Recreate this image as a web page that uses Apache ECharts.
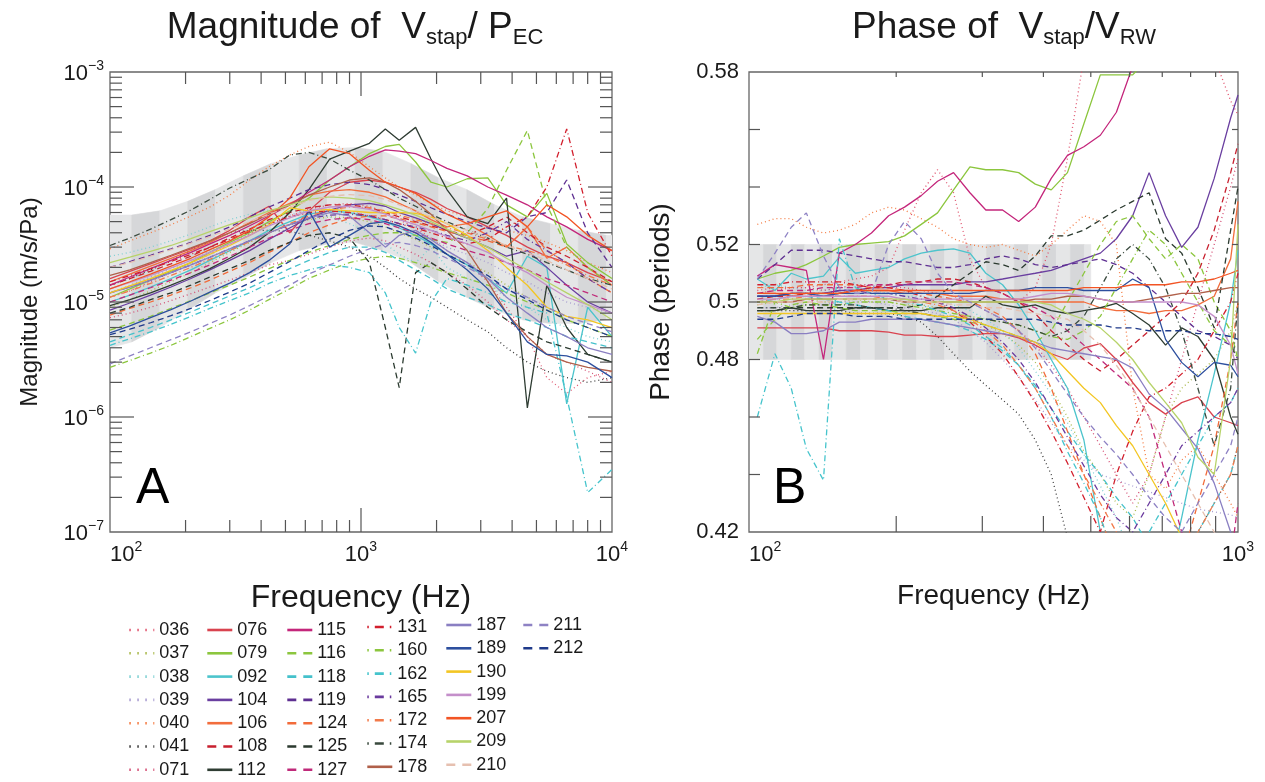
<!DOCTYPE html>
<html><head><meta charset="utf-8">
<script src="https://cdn.jsdelivr.net/npm/echarts@6/dist/echarts.min.js"></script>
<style>html,body{margin:0;padding:0;background:#fff}#c{width:1265px;height:782px}</style>
</head><body><div id="c"></div>
<script>
// ---------- DATA ----------
// Magnitude panel frequencies (Hz)
const freqMag = [100,120,145,175,210,250,300,360,430,520,620,750,900,1080,1250,1420,1650,1900,2200,2650,3200,3800,4600,5500,6600,8000,10000];
// Phase panel frequencies (Hz)
const freqPhase = [104,113,122,131,142,153,165,178,193,208,225,243,262,283,305,330,356,385,415,448,484,523,564,609,658,711,767,828,894,966,1000];

// Magnitudes in micro (1e-6) m/s/Pa
const mag036 = [11,12.5,15,18,22,26,32,39,47,56,64,70,72,68,60,52,44,36,28,22,15,9,5,2.2,1.6,2.2,2.5];
const mag037 = [9,10.5,12.5,15,18,22,27,33,40,47,52,55,54,50,45,40,35,30,26,22,18,14,11,9,7,6,5];
const mag038 = [25,27,30,34,39,45,52,58,63,64,60,55,48,40,32,26,22,30,20,16,14,11,9,7,6,5,4.5];
const mag039 = [12,14,16.5,19.5,23,28,34,41,49,57,62,64,62,56,50,45,40,35,30,26,22,18,15,12,10,9,8];
const mag040 = [29,34,40,47,56,67,85,115,150,190,225,245,200,150,120,100,85,72,62,55,48,42,38,33,28,22,18];
const mag041 = [14,16,19,23,28,34,40,42,42,41,38,34,30,25,20,16,13,11,9,7,5.5,4,3,2.5,2.2,2,2.2];
const mag071 = [7.3,8,9,10.3,11.8,13.5,15.5,18,21,23,26,30,34,36,34,30,26,22,18,14,10,7,5,3.5,3,2.5,2];
const mag076 = [16,18.5,21.5,25,29,34,42,55,68,40,62,90,110,115,110,100,90,78,65,55,45,38,30,25,22,18,15];
const mag079 = [11,13,15.5,18.5,22,27,33,40,50,62,80,115,150,195,225,235,165,110,100,118,120,70,55,88,32,22,16];
const mag092 = [10,11.5,13.5,16,19,23,28,34,42,50,58,62,60,55,50,44,38,32,26,21,16,12,25,20,1.3,9,5];
const mag104 = [8.5,9.8,11.5,13.5,16,19,23,28,35,44,54,63,70,72,68,60,54,48,42,36,30,25,28,20,14,10,8];
const mag106 = [15,17.5,20.5,24,28,33,40,49,60,72,85,92,95,90,82,72,62,52,45,48,38,30,45,24,30,20,14];
const mag108 = [14,16,18.5,21.5,25,30,36,43,52,60,66,70,70,66,60,55,50,46,42,38,45,55,40,30,25,20,15];
const mag112 = [9.3,10.5,12,14,16.5,19.5,24,30,40,60,95,175,205,240,320,255,330,175,95,55,48,80,1.2,14,6,3.5,3];
const mag115 = [14,16.5,19.5,23,27,32,38,46,56,70,90,115,150,185,210,205,195,170,145,125,100,85,70,55,45,35,28];
const mag116 = [5.7,6.5,7.5,8.8,10.3,12,14,16.5,19.5,23,27,31,35,38,40,40,38,35,33,40,65,140,310,70,30,20,14];
const mag118 = [4.5,5.2,6,7,8.2,9.6,11.3,13.3,16,19.5,23,27,30,30,27,23,19,16,13,11,9.5,8,7,6,5,4.5,4];
const mag119 = [20,22.5,25.5,29,33,38,45,55,67,80,95,105,110,105,95,85,75,66,58,50,44,40,55,60,115,40,20];
const mag124 = [7.7,8.8,10,11.5,13.3,15.5,18.5,22,27,33,40,47,53,56,56,53,49,45,41,37,34,30,45,28,22,16,12];
const mag125 = [8,9,10.5,12,14,16.5,19.5,23,28,33,38,40,36,22,6,1.8,18,22,18,13,9,7,5.5,4.5,4,3.5,3];
const mag127 = [10,11.5,13.3,15.5,18,21,25,30,36,42,48,52,54,52,48,44,40,36,32,28,25,22,19,16,14,12,10];
const mag131 = [15,17,19.5,22.5,26,30,35,41,48,55,60,62,60,56,52,48,44,40,36,32,35,45,55,100,320,60,25];
const mag160 = [2.7,3.1,3.6,4.2,5,5.9,7,8.5,10.5,13,16,19,22,24,25,24,22,20,18,16,14,12,10,8.5,7,6,5];
const mag162 = [4.2,4.8,5.5,6.4,7.5,8.8,10.3,12,14.5,17,19,21,20,18,12,6,3.6,10,16,14,12,10,9,8,1.5,0.22,0.35];
const mag165 = [12,13.5,15.5,18,21,24.5,29,34,40,47,53,57,58,56,52,48,45,42,38,34,40,50,35,28,22,16,12];
const mag172 = [11,12.5,14.5,17,20,23.5,28,33.5,40,48,56,63,67,66,62,57,52,48,44,40,35,31,28,25,21,17,14];
const mag174 = [31,36,43,52,63,78,98,118,141,190,200,175,140,115,95,80,68,58,50,42,36,30,26,22,19,16,14];
const mag178 = [17,19,22,25.5,29.5,34,40,48,58,70,85,100,115,120,110,95,75,58,42,28,15,8,5,3.5,3,2.7,2.5];
const mag187 = [12,13.5,15.5,18,21,24.5,29,34,40,47,54,60,56,40,30,38,42,35,28,22,16,11,8,6,5,4,3.5];
const mag189 = [5.4,6.2,7.3,8.6,10.2,12.2,14.6,18,23,32,62,30,38,48,50,46,40,33,26,19,13,8,4.5,3.5,3.4,3,2.2];
const mag190 = [12,13.8,16,18.8,22,26,31,38,47,66,62,64,62,60,60,60,59,55,48,38,28,20,14,9,7.5,7,6];
const mag199 = [13,14.8,17,19.8,23,27,32,38,46,54,62,67,68,64,58,52,47,42,37,32,27,22,18,14,11,9.5,8];
const mag207 = [13,15,17.5,20.5,24,28.5,34,42,55,80,150,215,195,140,110,100,88,72,58,48,55,62,45,70,55,38,28];
const mag209 = [22,24.5,27.5,31,35.5,41,47,54,62,70,78,82,80,76,70,64,57,50,43,36,30,24,19,15,12,9.5,7];
const mag210 = [20,22,25,28.5,32.5,37,43,50,58,67,76,83,86,84,78,70,62,55,48,42,36,31,27,23,19,16,13];
const mag211 = [2.9,3.4,4,4.7,5.5,6.5,7.7,9.3,11.3,14,17.5,21,25,29,32,33,31,28,24,20,16,13,11,9,7.5,6.5,5.5];
const mag212 = [5.2,5.8,6.6,7.6,8.8,10.3,12.2,14.6,18,22.5,28,35,42,46,45,41,36,31,26,21,17,13,10.5,8.5,7,6,5];

// Phases (periods)
const ph036 = [0.503,0.504,0.505,0.505,0.506,0.507,0.508,0.509,0.512,0.525,0.538,0.546,0.538,0.515,0.505,0.503,0.500,0.505,0.520,0.550,0.585,0.600,0.600,0.600,0.600,0.600,0.600,0.600,0.585,0.570,0.565];
const ph037 = [0.499,0.500,0.500,0.501,0.500,0.500,0.501,0.500,0.500,0.499,0.499,0.498,0.497,0.495,0.492,0.489,0.485,0.479,0.470,0.460,0.448,0.440,0.430,0.425,0.440,0.460,0.470,0.475,0.480,0.490,0.500];
const ph038 = [0.505,0.506,0.505,0.504,0.504,0.505,0.505,0.504,0.503,0.502,0.502,0.501,0.499,0.497,0.494,0.490,0.484,0.476,0.468,0.458,0.447,0.436,0.425,0.410,0.400,0.400,0.400,0.400,0.400,0.400,0.400];
const ph039 = [0.498,0.498,0.499,0.499,0.499,0.500,0.500,0.500,0.499,0.498,0.497,0.496,0.494,0.490,0.486,0.480,0.474,0.466,0.458,0.450,0.445,0.440,0.438,0.436,0.434,0.432,0.430,0.428,0.427,0.426,0.425];
const ph040 = [0.527,0.529,0.529,0.526,0.524,0.525,0.527,0.531,0.533,0.532,0.529,0.526,0.522,0.520,0.519,0.520,0.518,0.516,0.520,0.525,0.530,0.528,0.520,0.470,0.440,0.435,0.445,0.450,0.440,0.430,0.425];
const ph041 = [0.497,0.497,0.497,0.497,0.497,0.497,0.496,0.496,0.496,0.495,0.493,0.488,0.482,0.476,0.471,0.466,0.461,0.452,0.440,0.418,0.400,0.390,0.390,0.390,0.390,0.390,0.400,0.420,0.430,0.440,0.450];
const ph071 = [0.504,0.505,0.505,0.505,0.504,0.505,0.506,0.506,0.505,0.505,0.504,0.503,0.502,0.500,0.497,0.494,0.490,0.485,0.478,0.470,0.460,0.450,0.440,0.430,0.440,0.460,0.480,0.500,0.520,0.540,0.550];
const ph076 = [0.491,0.491,0.491,0.491,0.491,0.490,0.490,0.490,0.4895,0.4885,0.4885,0.488,0.488,0.4885,0.489,0.489,0.4875,0.485,0.482,0.480,0.484,0.4855,0.480,0.472,0.465,0.461,0.465,0.467,0.460,0.458,0.457];
const ph079 = [0.508,0.510,0.511,0.513,0.516,0.519,0.520,0.5205,0.521,0.523,0.527,0.531,0.539,0.547,0.546,0.546,0.545,0.541,0.539,0.545,0.562,0.579,0.579,0.579,0.585,0.590,0.595,0.600,0.600,0.600,0.600];
const ph092 = [0.508,0.504,0.510,0.508,0.509,0.5156,0.510,0.511,0.512,0.515,0.517,0.518,0.5185,0.517,0.510,0.506,0.499,0.490,0.480,0.470,0.452,0.420,0.380,0.370,0.380,0.400,0.425,0.452,0.475,0.500,0.518];
const ph104 = [0.502,0.502,0.503,0.503,0.503,0.504,0.504,0.505,0.505,0.506,0.506,0.506,0.506,0.507,0.507,0.508,0.509,0.510,0.511,0.513,0.515,0.517,0.522,0.530,0.545,0.530,0.519,0.526,0.543,0.564,0.572];
const ph106 = [0.503,0.503,0.502,0.503,0.503,0.503,0.504,0.504,0.504,0.503,0.503,0.503,0.502,0.502,0.502,0.501,0.501,0.500,0.500,0.500,0.500,0.498,0.497,0.497,0.496,0.497,0.497,0.499,0.502,0.515,0.535];
const ph108 = [0.501,0.502,0.502,0.503,0.502,0.503,0.504,0.505,0.506,0.507,0.507,0.508,0.508,0.507,0.505,0.503,0.500,0.496,0.490,0.485,0.480,0.476,0.480,0.485,0.490,0.495,0.500,0.510,0.525,0.545,0.555];
const ph112 = [0.497,0.497,0.498,0.497,0.497,0.497,0.498,0.498,0.497,0.497,0.497,0.498,0.498,0.498,0.502,0.499,0.498,0.499,0.497,0.496,0.497,0.498,0.4995,0.496,0.492,0.485,0.491,0.488,0.480,0.460,0.454];
const ph115 = [0.509,0.513,0.512,0.511,0.480,0.517,0.520,0.524,0.530,0.533,0.537,0.542,0.545,0.538,0.532,0.532,0.528,0.533,0.543,0.551,0.554,0.558,0.566,0.582,0.600,0.600,0.600,0.600,0.600,0.600,0.600];
const ph116 = [0.487,0.494,0.499,0.500,0.499,0.498,0.497,0.497,0.497,0.496,0.496,0.495,0.494,0.493,0.492,0.490,0.488,0.486,0.490,0.500,0.510,0.520,0.528,0.530,0.522,0.515,0.520,0.515,0.500,0.490,0.480];
const ph118 = [0.500,0.501,0.502,0.502,0.501,0.500,0.499,0.498,0.497,0.495,0.494,0.493,0.492,0.490,0.487,0.483,0.478,0.471,0.463,0.455,0.447,0.440,0.432,0.425,0.415,0.410,0.410,0.420,0.430,0.440,0.450];
const ph119 = [0.508,0.513,0.518,0.518,0.518,0.517,0.516,0.515,0.514,0.514,0.513,0.512,0.512,0.513,0.515,0.516,0.515,0.513,0.512,0.513,0.514,0.515,0.513,0.510,0.505,0.500,0.495,0.490,0.488,0.485,0.480];
const ph124 = [0.505,0.505,0.505,0.506,0.506,0.506,0.506,0.505,0.505,0.504,0.503,0.502,0.501,0.500,0.498,0.495,0.490,0.482,0.470,0.455,0.440,0.425,0.410,0.400,0.400,0.400,0.410,0.430,0.450,0.480,0.500];
const ph125 = [0.497,0.497,0.498,0.498,0.498,0.498,0.498,0.498,0.498,0.498,0.499,0.502,0.506,0.510,0.514,0.513,0.511,0.516,0.523,0.523,0.525,0.5285,0.532,0.535,0.538,0.522,0.517,0.505,0.491,0.525,0.540];
const ph127 = [0.503,0.504,0.504,0.504,0.505,0.505,0.505,0.506,0.506,0.506,0.507,0.507,0.507,0.506,0.505,0.503,0.500,0.498,0.495,0.490,0.485,0.480,0.475,0.470,0.460,0.440,0.420,0.400,0.400,0.410,0.430];
const ph131 = [0.506,0.506,0.507,0.507,0.507,0.507,0.506,0.505,0.505,0.504,0.502,0.500,0.497,0.493,0.488,0.482,0.474,0.465,0.455,0.444,0.432,0.420,0.440,0.455,0.467,0.470,0.475,0.480,0.490,0.500,0.510];
const ph160 = [0.482,0.500,0.498,0.499,0.499,0.499,0.500,0.500,0.500,0.499,0.498,0.497,0.496,0.495,0.494,0.493,0.492,0.490,0.488,0.487,0.490,0.495,0.505,0.515,0.525,0.520,0.510,0.500,0.490,0.485,0.480];
const ph162 = [0.460,0.482,0.470,0.449,0.438,0.522,0.505,0.503,0.501,0.500,0.499,0.497,0.495,0.492,0.488,0.484,0.478,0.470,0.460,0.448,0.437,0.425,0.410,0.410,0.420,0.430,0.440,0.450,0.460,0.465,0.470];
const ph165 = [0.502,0.502,0.503,0.503,0.503,0.504,0.504,0.503,0.503,0.502,0.501,0.500,0.498,0.495,0.491,0.486,0.480,0.472,0.463,0.453,0.443,0.433,0.425,0.420,0.430,0.440,0.450,0.455,0.460,0.465,0.470];
const ph172 = [0.500,0.501,0.501,0.502,0.502,0.502,0.502,0.502,0.501,0.501,0.500,0.499,0.497,0.494,0.490,0.485,0.478,0.470,0.460,0.450,0.440,0.430,0.420,0.410,0.400,0.400,0.410,0.420,0.430,0.440,0.450];
const ph174 = [0.498,0.498,0.498,0.499,0.499,0.499,0.499,0.498,0.498,0.497,0.496,0.495,0.495,0.494,0.494,0.493,0.492,0.490,0.488,0.490,0.495,0.505,0.515,0.520,0.515,0.505,0.490,0.470,0.450,0.470,0.500];
const ph178 = [0.500,0.500,0.500,0.501,0.501,0.501,0.501,0.501,0.501,0.500,0.500,0.500,0.500,0.500,0.500,0.500,0.500,0.501,0.501,0.502,0.502,0.501,0.500,0.500,0.501,0.502,0.503,0.503,0.504,0.505,0.505];
const ph187 = [0.495,0.493,0.489,0.489,0.490,0.493,0.493,0.494,0.494,0.494,0.494,0.493,0.492,0.491,0.490,0.489,0.488,0.486,0.484,0.483,0.482,0.481,0.480,0.477,0.468,0.463,0.456,0.449,0.437,0.420,0.410];
const ph189 = [0.502,0.502,0.503,0.503,0.502,0.503,0.503,0.503,0.503,0.503,0.503,0.503,0.503,0.503,0.504,0.504,0.504,0.505,0.505,0.505,0.504,0.504,0.504,0.508,0.505,0.487,0.479,0.474,0.479,0.478,0.474];
const ph190 = [0.496,0.496,0.496,0.496,0.496,0.496,0.496,0.496,0.496,0.496,0.496,0.495,0.495,0.494,0.492,0.490,0.488,0.486,0.482,0.476,0.470,0.465,0.457,0.450,0.440,0.430,0.418,0.400,0.390,0.390,0.390];
const ph199 = [0.501,0.501,0.502,0.502,0.502,0.502,0.502,0.502,0.502,0.501,0.501,0.501,0.501,0.501,0.501,0.501,0.501,0.502,0.503,0.503,0.502,0.501,0.500,0.500,0.500,0.500,0.500,0.499,0.495,0.485,0.475];
const ph207 = [0.503,0.503,0.503,0.503,0.503,0.503,0.504,0.504,0.504,0.504,0.504,0.504,0.504,0.504,0.504,0.504,0.504,0.504,0.504,0.504,0.505,0.505,0.505,0.506,0.506,0.506,0.507,0.507,0.508,0.510,0.511];
const ph209 = [0.500,0.500,0.501,0.501,0.501,0.501,0.501,0.501,0.501,0.501,0.500,0.500,0.500,0.500,0.500,0.500,0.500,0.500,0.499,0.496,0.494,0.491,0.486,0.480,0.472,0.465,0.458,0.446,0.440,0.480,0.527];
const ph210 = [0.499,0.500,0.500,0.500,0.500,0.501,0.501,0.501,0.501,0.500,0.500,0.500,0.499,0.499,0.498,0.498,0.497,0.496,0.495,0.494,0.490,0.485,0.478,0.470,0.460,0.450,0.440,0.430,0.420,0.410,0.400];
const ph211 = [0.508,0.517,0.526,0.531,0.516,0.505,0.503,0.503,0.520,0.528,0.522,0.510,0.503,0.500,0.497,0.494,0.490,0.484,0.476,0.468,0.460,0.453,0.447,0.440,0.432,0.425,0.420,0.430,0.440,0.450,0.460];
const ph212 = [0.494,0.494,0.495,0.496,0.496,0.496,0.495,0.495,0.495,0.494,0.494,0.494,0.494,0.494,0.494,0.494,0.494,0.494,0.493,0.492,0.492,0.492,0.491,0.491,0.490,0.490,0.490,0.489,0.489,0.488,0.487];

// Shaded band, magnitude panel (stripe edges in Hz, bounds in micro m/s/Pa)
const bandFreqMag = [100,122,158,204,263,340,439,567,733,947,1223,1580,2042,2638,3408,4403,5689,7350,9496,10000];
const bandHighMag = [57,57,62,75,95,125,160,190,215,220,205,160,120,95,70,55,48,42,38,38];
const bandLowMag  = [4,4.5,6,8.5,12,16,22,28,32,33,28,22,15,11,8.5,7,6.5,6.5,7,7];
// Shaded band, phase panel
const bandFreqPhase = [100,107,114,122,130,139,148,158,169,181,193,206,220,235,251,268,287,306,327,349,373,398,425,454,485,500];
const bandLowPhase = 0.48, bandHighPhase = 0.52;

// Tick positions
const magXMinorTicks = [200,300,400,500,600,700,800,900,2000,3000,4000,5000,6000,7000,8000,9000];
const magXMajorTicks = [1000];
const magYMinorTicks = [2e-7,3e-7,4e-7,5e-7,6e-7,7e-7,8e-7,9e-7,2e-6,3e-6,4e-6,5e-6,6e-6,7e-6,8e-6,9e-6,2e-5,3e-5,4e-5,5e-5,6e-5,7e-5,8e-5,9e-5,2e-4,3e-4,4e-4,5e-4,6e-4,7e-4,8e-4,9e-4];
const magYMajorTicks = [1e-6,1e-5,1e-4];
const phXMinorTicks = [200,300,400,500,600,700,800,900];
const phYTicks = [0.44,0.46,0.48,0.5,0.52,0.54,0.56];
const phYTickLabels = [0.42,0.48,0.5,0.52,0.58];

const MICRO = 1e-6;

// ---------- STYLE ----------
const seriesIds = ['036','037','038','039','040','041','071','076','079','092','104','106','108','112','115','116','118','119','124','125','127','131','160','162','165','172','174','178','187','189','190','199','207','209','210','211','212'];
const magTable = {'036':mag036,'037':mag037,'038':mag038,'039':mag039,'040':mag040,'041':mag041,'071':mag071,'076':mag076,'079':mag079,'092':mag092,'104':mag104,'106':mag106,'108':mag108,'112':mag112,'115':mag115,'116':mag116,'118':mag118,'119':mag119,'124':mag124,'125':mag125,'127':mag127,'131':mag131,'160':mag160,'162':mag162,'165':mag165,'172':mag172,'174':mag174,'178':mag178,'187':mag187,'189':mag189,'190':mag190,'199':mag199,'207':mag207,'209':mag209,'210':mag210,'211':mag211,'212':mag212};
const phTable = {'036':ph036,'037':ph037,'038':ph038,'039':ph039,'040':ph040,'041':ph041,'071':ph071,'076':ph076,'079':ph079,'092':ph092,'104':ph104,'106':ph106,'108':ph108,'112':ph112,'115':ph115,'116':ph116,'118':ph118,'119':ph119,'124':ph124,'125':ph125,'127':ph127,'131':ph131,'160':ph160,'162':ph162,'165':ph165,'172':ph172,'174':ph174,'178':ph178,'187':ph187,'189':ph189,'190':ph190,'199':ph199,'207':ph207,'209':ph209,'210':ph210,'211':ph211,'212':ph212};
const look = {
 '036':['#e0556f','dot'],'037':['#a9b84a','dot'],'038':['#7fd0d3','dot'],'039':['#a89cd0','dot'],'040':['#f47b42','dot'],'041':['#3a3a3a','dot'],'071':['#d44d73','dot'],
 '076':['#d9434f','solid'],'079':['#8cc63e','solid'],'092':['#4cc4cc','solid'],'104':['#6a3fa0','solid'],'106':['#f26d3d','solid'],'108':['#c8202f','dash'],'112':['#2f3d33','solid'],
 '115':['#c4267b','solid'],'116':['#8cc63e','dash'],'118':['#45c1cb','dash'],'119':['#5e2f91','dash'],'124':['#f26b3a','dash'],'125':['#2b3a2f','dash'],'127':['#c02a7a','dash'],
 '131':['#d21f2d','dashdot'],'160':['#8cc63e','dashdot'],'162':['#45c4cc','dashdot'],'165':['#6a3a9e','dashdot'],'172':['#f27a4a','dashdot'],'174':['#3a4a3e','dashdot'],'178':['#b0604a','solid'],
 '187':['#8a7fc2','solid'],'189':['#2d4f9e','solid'],'190':['#f3c623','solid'],'199':['#c48fca','solid'],'207':['#f25424','solid'],'209':['#b7d36a','solid'],'210':['#e6c0b0','dash'],
 '211':['#8e82c4','dash'],'212':['#1f3a8a','dash']
};
const plotDash = {solid:'solid', dot:[1,3], dash:[6,4], dashdot:[6,3,1,3]};
const legendDash = {solid:'solid', dot:[1.5,6.5], dash:[9,7], dashdot:[1.5,6,9,6,1.5,20]};
const legendCols = [
 ['036','037','038','039','040','041','071'],
 ['076','079','092','104','106','108','112'],
 ['115','116','118','119','124','125','127'],
 ['131','160','162','165','172','174','178'],
 ['187','189','190','199','207','209','210'],
 ['211','212']
];
const legendLeft = [128,206,286,366,445,522];
const legendTop = [621,621,621,618,616,616];

const FONT = 'Liberation Sans, Arial, Helvetica, sans-serif';
const TXT = '#1a1a1a';
const TICK = '#555';

const supRich = {
  b:{fontSize:22, fontFamily:FONT, color:TXT, lineHeight:26, verticalAlign:'bottom'},
  s:{fontSize:14, fontFamily:FONT, color:TXT, lineHeight:14, verticalAlign:'top'}
};

function bandSeries(xi, yi, freqs, lows, highs, scale) {
  const data = [];
  for (let i = 0; i < freqs.length - 1; i++) {
    const l0 = Array.isArray(lows) ? lows[i]*scale : lows, l1 = Array.isArray(lows) ? lows[i+1]*scale : lows;
    const h0 = Array.isArray(highs) ? highs[i]*scale : highs, h1 = Array.isArray(highs) ? highs[i+1]*scale : highs;
    data.push([freqs[i], freqs[i+1], l0, l1, h0, h1, i]);
  }
  return {type:'custom', xAxisIndex:xi, yAxisIndex:yi, silent:true, z:1, clip:true,
    encode:{x:[0,1], y:[2,3,4,5]}, data,
    renderItem:(p, api) => {
      const a = api.coord([api.value(0), api.value(2)]);
      const b = api.coord([api.value(1), api.value(3)]);
      const c = api.coord([api.value(1), api.value(5)]);
      const d = api.coord([api.value(0), api.value(4)]);
      const col = api.value(6) % 2 ? '#d6d7d9' : '#e5e6e7';
      return {type:'polygon', shape:{points:[a,b,c,d]}, style:{fill:col, stroke:col, lineWidth:0.6}};
    }};
}
function xTicks(xi, yi, values, yLo, yHi, lenB, lenT) {
  return {type:'custom', xAxisIndex:xi, yAxisIndex:yi, silent:true, z:6, clip:false,
    encode:{x:0, y:1}, data:values.map(v => [v, yLo]),
    renderItem:(p, api) => {
      const b = api.coord([api.value(0), yLo]); const t = api.coord([api.value(0), yHi]);
      return {type:'group', children:[
        {type:'line', shape:{x1:b[0], y1:b[1], x2:b[0], y2:b[1]-lenB}, style:{stroke:TICK, lineWidth:1.2}},
        {type:'line', shape:{x1:t[0], y1:t[1], x2:t[0], y2:t[1]+lenT}, style:{stroke:TICK, lineWidth:1.2}}]};
    }};
}
function yTicks(xi, yi, values, xLo, xHi, lenL, lenR) {
  return {type:'custom', xAxisIndex:xi, yAxisIndex:yi, silent:true, z:6, clip:false,
    encode:{x:0, y:1}, data:values.map(v => [xLo, v]),
    renderItem:(p, api) => {
      const l = api.coord([xLo, api.value(1)]); const r = api.coord([xHi, api.value(1)]);
      return {type:'group', children:[
        {type:'line', shape:{x1:l[0], y1:l[1], x2:l[0]+lenL, y2:l[1]}, style:{stroke:TICK, lineWidth:1.2}},
        {type:'line', shape:{x1:r[0], y1:r[1], x2:r[0]-lenR, y2:r[1]}, style:{stroke:TICK, lineWidth:1.2}}]};
    }};
}

const series = [
  bandSeries(0, 0, bandFreqMag, bandLowMag, bandHighMag, MICRO),
  bandSeries(1, 1, bandFreqPhase, bandLowPhase, bandHighPhase, 1)
];
seriesIds.forEach(id => {
  const [col, d] = look[id];
  const ls = {color:col, width:1.3, type:plotDash[d]};
  series.push({name:id, type:'line', xAxisIndex:0, yAxisIndex:0, symbol:'none', z:3,
    data:freqMag.map((f, i) => [f, magTable[id][i]*MICRO]), lineStyle:ls, itemStyle:{color:col}});
  series.push({name:id, type:'line', xAxisIndex:1, yAxisIndex:1, symbol:'none', z:3,
    data:freqPhase.map((f, i) => [f, phTable[id][i]]), lineStyle:ls, itemStyle:{color:col}});
});
series.push(xTicks(0, 0, magXMinorTicks, 1e-7, 1e-3, 12, 12));
series.push(xTicks(0, 0, magXMajorTicks, 1e-7, 1e-3, 24, 24));
series.push(yTicks(0, 0, magYMinorTicks, 100, 10000, 12, 12));
series.push(yTicks(0, 0, magYMajorTicks, 100, 10000, 24, 24));
series.push(xTicks(1, 1, phXMinorTicks, 0.42, 0.58, 16, 5));
series.push(yTicks(1, 1, phYTicks, 100, 1000, 11, 6));

const legends = legendCols.map((col, ci) => ({
  orient:'vertical', left:legendLeft[ci], top:legendTop[ci], height:175, itemWidth:25, itemHeight:16, itemGap:5.3,
  selectedMode:false, padding:0,
  textStyle:{fontSize:18, fontFamily:FONT, color:TXT, lineHeight:16},
  itemStyle:{color:'rgba(0,0,0,0)', borderWidth:0, opacity:0},
  lineStyle:{width:2.6},
  data:col.map(id => ({name:id, itemStyle:{color:'rgba(0,0,0,0)', borderWidth:0, opacity:0},
                       lineStyle:{type:legendDash[look[id][1]], width:2.6, color:look[id][0]}}))
}));

const expLabel = v => { const e = Math.round(Math.log10(v)); return '{b|10}{s|' + (e < 0 ? '\u2212' + (-e) : e) + '}'; };
const titleRich = {a:{fontSize:37, fontWeight:'normal', fontFamily:FONT, color:TXT, lineHeight:40, verticalAlign:'top'},
                   b:{fontSize:22, fontWeight:'normal', fontFamily:FONT, color:TXT, lineHeight:22, padding:[24,0,0,0], verticalAlign:'bottom'}};

const option = {
  animation:false,
  backgroundColor:'#fff',
  title:[
    {left:350, top:4, textAlign:'center', text:'{a|Magnitude of  V}{b|stap}{a|/ P}{b|EC}',
     textStyle:{fontWeight:'normal', rich:titleRich}},
    {left:999, top:4, textAlign:'center', text:'{a|Phase of  V}{b|stap}{a|/V}{b|RW}',
     textStyle:{fontWeight:'normal', rich:titleRich}}
  ],
  legend:legends,
  grid:[
    {left:110, top:72, width:502, height:460, show:true, borderColor:'#666', borderWidth:1.3, backgroundColor:'transparent'},
    {left:749, top:72, width:489, height:460, show:true, borderColor:'#666', borderWidth:1.3, backgroundColor:'transparent'}
  ],
  xAxis:[
    {type:'log', logBase:10, min:100, max:10000, gridIndex:0,
     name:'Frequency (Hz)', nameLocation:'middle', nameGap:50,
     nameTextStyle:{fontSize:32, fontFamily:FONT, color:TXT},
     axisLine:{show:false}, axisTick:{show:false}, splitLine:{show:false}, minorTick:{show:false},
     axisLabel:{show:true, margin:8, formatter:expLabel, rich:supRich, showMinLabel:true, showMaxLabel:true, alignMinLabel:'left'}},
    {type:'log', logBase:10, min:100, max:1000, gridIndex:1,
     name:'Frequency (Hz)', nameLocation:'middle', nameGap:50,
     nameTextStyle:{fontSize:28, fontFamily:FONT, color:TXT},
     axisLine:{show:false}, axisTick:{show:false}, splitLine:{show:false},
     axisLabel:{show:true, margin:8, formatter:expLabel, rich:supRich, showMinLabel:true, showMaxLabel:true, alignMinLabel:'left'}}
  ],
  yAxis:[
    {type:'log', logBase:10, min:1e-7, max:1e-3, gridIndex:0,
     name:'Magnitude (m/s/Pa)', nameLocation:'middle', nameGap:68, nameRotate:90,
     nameTextStyle:{fontSize:24, fontFamily:FONT, color:TXT},
     axisLine:{show:false}, axisTick:{show:false}, splitLine:{show:false},
     axisLabel:{show:true, margin:6, formatter:expLabel, rich:supRich, showMinLabel:true, showMaxLabel:true}},
    {type:'value', min:0.42, max:0.58, interval:0.02, gridIndex:1,
     name:'Phase (periods)', nameLocation:'middle', nameGap:74, nameRotate:90,
     nameTextStyle:{fontSize:28, fontFamily:FONT, color:TXT},
     axisLine:{show:false}, axisTick:{show:false}, splitLine:{show:false},
     axisLabel:{show:true, margin:10, fontSize:22, fontFamily:FONT, color:TXT,
       formatter:v => phYTickLabels.some(t => Math.abs(t - v) < 1e-6) ? String(Number(v.toFixed(2))) : ''}}
  ],
  graphic:[
    {type:'text', left:136, top:464, style:{text:'A', fontSize:50, fontFamily:FONT, fill:'#000'}},
    {type:'text', left:773, top:464, style:{text:'B', fontSize:50, fontFamily:FONT, fill:'#000'}}
  ],
  series
};
const chart = echarts.init(document.getElementById('c'), null, {renderer:'canvas'});
chart.setOption(option);
</script></body></html>
